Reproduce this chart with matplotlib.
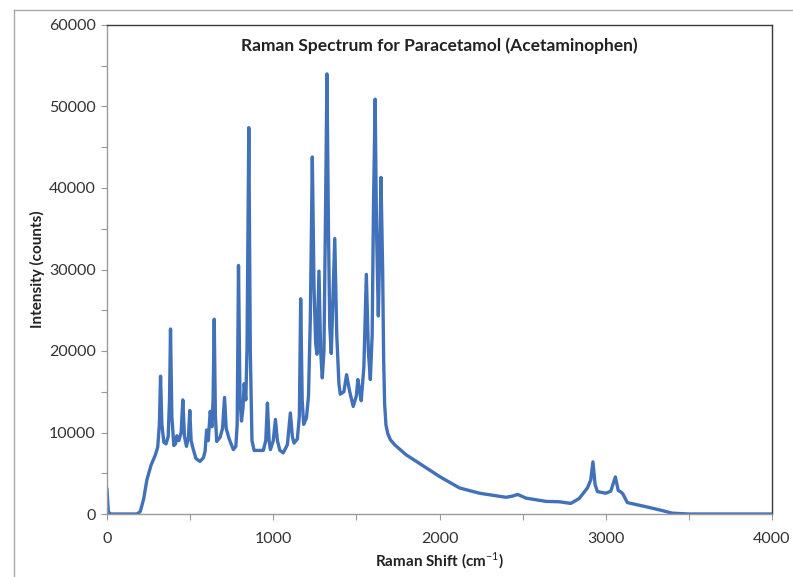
import matplotlib
matplotlib.use("Agg")
import matplotlib.pyplot as plt
from matplotlib.ticker import MultipleLocator
from matplotlib.lines import Line2D

# Traced spectrum (Raman shift in cm^-1, intensity in counts)
raman_shift = [
    0, 8, 20, 180, 200, 220, 240, 265, 290, 305, 315, 322, 330, 342, 355, 368, 376, 382, 390,
    402, 412, 420, 432, 446, 456, 466, 478, 490, 498, 506, 518, 535, 559, 580, 590, 599, 609,
    621, 631, 638, 645, 652, 660, 680, 695, 707, 717, 735, 760, 775, 783, 791, 800, 809, 818,
    825, 835, 842, 853, 862, 872, 885, 940, 955, 965, 975, 983, 1000, 1013, 1025, 1040, 1060,
    1085, 1103, 1115, 1125, 1145, 1157, 1165, 1174, 1183, 1200, 1212, 1223, 1235, 1245, 1255,
    1263, 1275, 1285, 1295, 1305, 1315, 1323, 1332, 1340, 1349, 1360, 1370, 1382, 1395, 1403,
    1425, 1441, 1460, 1481, 1500, 1509, 1520, 1529, 1545, 1560, 1572, 1584, 1595, 1603, 1613,
    1621, 1632, 1640, 1648, 1658, 1664, 1670, 1678, 1690, 1705, 1730, 1800, 1880, 2000, 2120,
    2240, 2400, 2440, 2470, 2520, 2640, 2720, 2790, 2840, 2890, 2910, 2923, 2936, 2950, 3000,
    3030, 3058, 3075, 3090, 3102, 3130, 3240, 3340, 3400, 3500, 4000,
]
intensity = [
    3000, 300, 0, 0, 300, 1800, 4200, 6000, 7200, 8200, 11000, 16900, 11000, 8800, 8600, 9500,
    14000, 22700, 12000, 8400, 8600, 9600, 9000, 10000, 14000, 9500, 8300, 9500, 12700, 9000,
    8000, 6800, 6450, 6900, 7700, 10300, 9000, 12600, 10700, 14000, 23900, 12000, 8900, 9400,
    10500, 14300, 10500, 9200, 7900, 8300, 11000, 30500, 14000, 11400, 13000, 16000, 14000,
    20000, 47400, 20000, 9000, 7800, 7800, 9000, 13600, 9000, 7900, 9000, 11600, 9000, 7800,
    7500, 8500, 12400, 9500, 8700, 9200, 12000, 26400, 14000, 11000, 11800, 14500, 24000, 43800,
    28000, 21000, 19600, 29800, 20000, 16700, 20000, 38000, 54000, 35000, 23000, 19700, 27000,
    33800, 22000, 16000, 14700, 15000, 17100, 15000, 13200, 14500, 16500, 15000, 13900, 18000,
    29400, 20000, 16500, 22000, 38000, 50900, 35000, 24300, 32000, 41300, 30000, 19000, 13500,
    10900, 9800, 9100, 8500, 7250, 6200, 4600, 3200, 2550, 2050, 2200, 2400, 1950, 1550, 1500,
    1300, 1900, 3200, 4200, 6400, 3600, 2750, 2550, 2800, 4550, 2900, 2700, 2500, 1400, 900,
    420, 100, 0, 0,
]

title = "Raman Spectrum for Paracetamol (Acetaminophen)"
x_label = "Raman Shift (cm$^{-1}$)"
y_label = "Intensity (counts)"

plt.rcParams['font.family'] = ['Lato', 'DejaVu Sans']
plt.rcParams['mathtext.fontset'] = 'custom'
plt.rcParams['mathtext.rm'] = 'Lato'
plt.rcParams['mathtext.bf'] = 'Lato:bold'

fig = plt.figure(figsize=(7.93, 5.77), dpi=100)
ax = fig.add_axes([107 / 793, 1 - 514 / 577, (772 - 107) / 793, (514 - 25) / 577])

ax.plot(raman_shift, intensity, color='#4171B9', lw=2.4, solid_joinstyle='round')

ax.set_xlim(0, 4000)
ax.set_ylim(0, 60000)
ax.xaxis.set_major_locator(MultipleLocator(1000))
ax.xaxis.set_minor_locator(MultipleLocator(500))
ax.yaxis.set_major_locator(MultipleLocator(10000))
ax.yaxis.set_minor_locator(MultipleLocator(5000))

for s in ['left', 'bottom']:
    ax.spines[s].set_color('#9a9a9a')
    ax.spines[s].set_linewidth(1.0)
for s in ['top', 'right']:
    ax.spines[s].set_color('#3a3a3a')
    ax.spines[s].set_linewidth(1.0)

ax.tick_params(which='both', direction='out', length=4, width=0.8, color='#9a9a9a',
               labelsize=11.5, labelcolor='#333333')
ax.tick_params(axis='x', pad=9)
ax.tick_params(axis='y', pad=4)

ax.set_title(title, fontsize=12.5, fontweight='bold', color='#222222', y=0.958, va='top')
ax.set_xlabel(x_label, fontsize=11, fontweight='bold', color='#222222', labelpad=3)
ax.set_ylabel(y_label, fontsize=11, fontweight='bold', color='#222222', labelpad=3)

# outer chart frame
fig.add_artist(Line2D([14 / 793, 14 / 793], [0, 1 - 10 / 577], transform=fig.transFigure,
                      color='#a8a8a8', lw=1.0))
fig.add_artist(Line2D([14 / 793, 1], [1 - 10 / 577, 1 - 10 / 577], transform=fig.transFigure,
                      color='#a8a8a8', lw=1.0))

fig.savefig('out.png', dpi=100)
